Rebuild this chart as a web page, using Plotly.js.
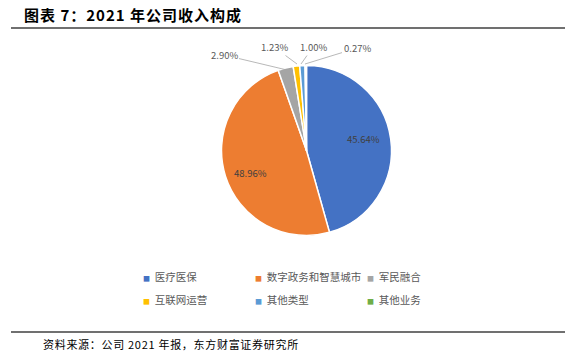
<!DOCTYPE html>
<html><head><meta charset="utf-8">
<script src="https://cdn.plot.ly/plotly-3.0.1.min.js"></script>
<style>html,body{margin:0;padding:0;background:#fff}#c{width:575px;height:352px}</style>
</head><body><div id="c"></div>
<script>
const categories = ["医疗医保","数字政务和智慧城市","军民融合","互联网运营","其他类型","其他业务"];
const shares = [45.64, 48.96, 2.90, 1.23, 1.00, 0.27];
const colors = ["#4472C4","#ED7D31","#A5A5A5","#FFC000","#5B9BD5","#70AD47"];

const W = 575, H = 352;
const px = x => x / W, py = y => 1 - y / H;
const CJK = '"Noto Sans CJK SC", "Noto Sans", sans-serif';

const pie = {
  type: 'pie', values: shares, labels: categories, sort: false,
  direction: 'clockwise', rotation: 0,
  marker: {colors: colors, line: {color: '#ffffff', width: 1.5}},
  textinfo: 'none', hoverinfo: 'none', showlegend: false,
  domain: {x: [px(221.5), px(391.5)], y: [py(235.5), py(65.5)]}
};
// legend entries: the colour key is drawn as a small square glyph in front of the name
const legendTraces = categories.map((c, i) => ({
  type: 'scatter', mode: 'markers', x: [null], y: [null],
  name: '<span style="color:' + colors[i] + ';font-size:7px">■</span>  ' + c,
  legend: i < 3 ? 'legend' : 'legend2',
  marker: {symbol: 'square', size: 1, color: 'rgba(0,0,0,0)'}, showlegend: true, hoverinfo: 'none'
}));

const fmt = v => v.toFixed(2) + '%';
const inside = [{x: 363, y: 139}, {x: 250, y: 173}];
const outside = [null, null,
  {tx: 287, ty: 70, lx: 224, ly: 55},
  {tx: 297, ty: 64, lx: 274, ly: 47},
  {tx: 301, ty: 64, lx: 313, ly: 47},
  {tx: 305, ty: 64, lx: 357, ly: 48}];
const annotations = [];
shares.forEach((v, i) => {
  if (i < 2) {
    annotations.push({xref: 'paper', yref: 'paper', x: px(inside[i].x), y: py(inside[i].y),
      text: fmt(v), showarrow: false, font: {family: CJK, size: 9.5, color: '#404040'}});
  } else {
    const o = outside[i];
    annotations.push({xref: 'paper', yref: 'paper', x: px(o.tx), y: py(o.ty),
      ax: o.lx - o.tx, ay: o.ly - o.ty, axref: 'pixel', ayref: 'pixel',
      text: fmt(v), showarrow: true, arrowhead: 0, arrowwidth: 0.8, arrowcolor: '#A6A6A6', standoff: 0,
      font: {family: CJK, size: 9.5, color: '#595959'}});
  }
});
annotations.push({xref: 'paper', yref: 'paper', x: px(22), y: py(14), xanchor: 'left', yanchor: 'middle',
  text: '<span style="letter-spacing:1px"><b>图表 7：2021 年公司收入构成</b></span>', showarrow: false,
  font: {family: CJK, size: 15, color: '#000'}});
annotations.push({xref: 'paper', yref: 'paper', x: px(41), y: py(344), xanchor: 'left', yanchor: 'middle',
  text: '<span style="letter-spacing:0.7px">资料来源：公司 2021 年报，东方财富证券研究所</span>', showarrow: false,
  font: {family: CJK, size: 11, color: '#000'}});

const legendBase = {orientation: 'h', xanchor: 'left', yanchor: 'top',
  entrywidth: 67, entrywidthmode: 'pixels', itemsizing: 'trace',
  font: {family: CJK, size: 10.5, color: '#595959'}, bgcolor: 'rgba(0,0,0,0)'};

const layout = {
  width: W, height: H, margin: {l: 0, r: 0, t: 0, b: 0, autoexpand: false},
  paper_bgcolor: '#fff', plot_bgcolor: '#fff',
  xaxis: {visible: false}, yaxis: {visible: false},
  showlegend: true,
  legend: Object.assign({}, legendBase, {x: px(103), y: py(262)}),
  legend2: Object.assign({}, legendBase, {x: px(103), y: py(285)}),
  annotations: annotations,
  shapes: [
    {type: 'line', xref: 'paper', yref: 'paper', x0: px(11), x1: px(565), y0: py(28), y1: py(28), line: {color: '#404040', width: 1.5}},
    {type: 'line', xref: 'paper', yref: 'paper', x0: px(11), x1: px(565), y0: py(332), y1: py(332), line: {color: '#404040', width: 1.5}}
  ]
};
Plotly.newPlot('c', [pie].concat(legendTraces), layout, {staticPlot: true});
</script></body></html>
